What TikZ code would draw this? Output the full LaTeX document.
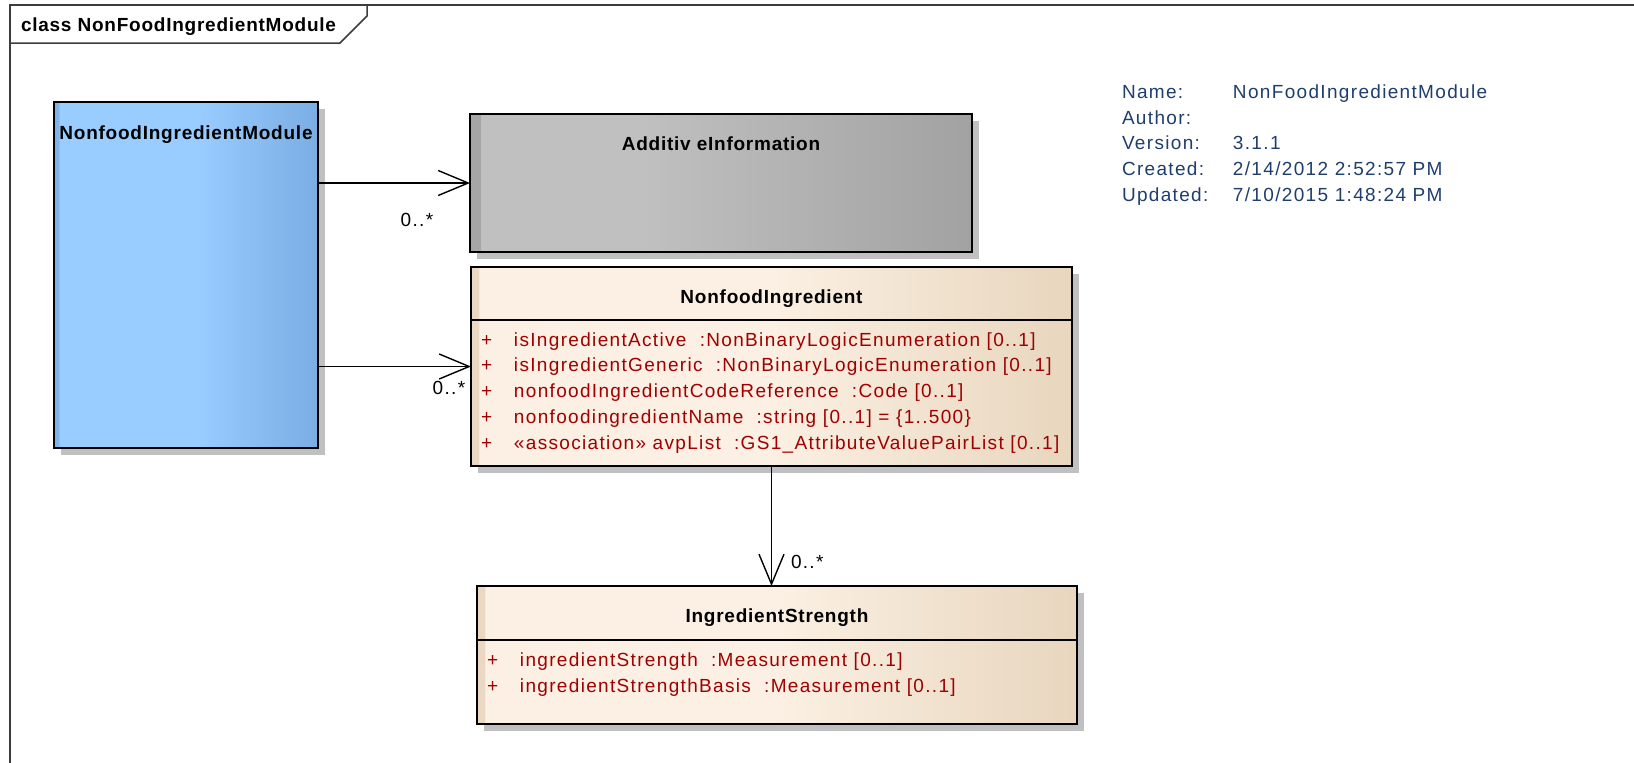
\documentclass[tikz,border=0pt]{standalone}
\usepackage{fontspec}
\setmainfont{Liberation Sans}[LetterSpace=7,BoldFeatures={LetterSpace=4}]
\usetikzlibrary{arrows.meta,shadows}
\definecolor{attrred}{RGB}{160,0,0}
\definecolor{infoblue}{RGB}{30,62,110}
\definecolor{framegray}{RGB}{60,60,60}
\definecolor{shadowgray}{RGB}{192,192,192}
\definecolor{bluelt}{RGB}{153,204,255}
\definecolor{bluedk}{RGB}{122,174,228}
\definecolor{bluestrip}{RGB}{127,180,232}
\definecolor{graylt}{RGB}{192,192,192}
\definecolor{graydk}{RGB}{162,162,162}
\definecolor{graystrip}{RGB}{166,166,166}
\definecolor{beigelt}{RGB}{251,240,227}
\definecolor{beigedk}{RGB}{232,214,190}
\definecolor{beigestrip}{RGB}{234,216,194}
\pgfdeclarehorizontalshading{moduleshade}{100bp}{color(0bp)=(bluestrip); color(25.9bp)=(bluestrip); color(26bp)=(bluelt); color(52bp)=(bluelt); color(75bp)=(bluedk); color(100bp)=(bluedk)}
\pgfdeclarehorizontalshading{additiveshade}{100bp}{color(0bp)=(graystrip); color(26bp)=(graystrip); color(26.1bp)=(graylt); color(42bp)=(graylt); color(75bp)=(graydk); color(100bp)=(graydk)}
\pgfdeclarehorizontalshading{classshade}{100bp}{color(0bp)=(beigestrip); color(25.6bp)=(beigestrip); color(25.7bp)=(beigelt); color(50bp)=(beigelt); color(75bp)=(beigedk); color(100bp)=(beigedk)}
\newcommand{\attrplus}{\makebox[33pt][l]{+}}
\begin{document}
\begin{tikzpicture}[x=1pt, y=-1pt,
  every node/.style={font=\fontsize{19}{25.7}\selectfont, inner sep=0pt, outer sep=0pt},
  classbox/.style={draw, line width=2pt, anchor=north west, general shadow={fill=shadowgray, shadow xshift=7pt, shadow yshift=-7pt}},
  classtitle/.style={font=\fontsize{19}{25.7}\selectfont\bfseries, anchor=base},
  attrtext/.style={text=attrred, anchor=base west},
  multlabel/.style={anchor=base west},
  compline/.style={line width=2pt},
  diagframe/.style={draw=framegray, line width=1.5pt},
  arr/.style={-{Straight Barb[length=30pt, width=25pt]}, line width=1.4pt}
]
\useasboundingbox (0,0) rectangle (1634,763);
\draw[diagframe] (10,763) -- (10,5) -- (1634,5);
\draw[diagframe] (10,43) -- (340,43) -- (367,16) -- (367,5);
\node[font=\fontsize{19}{25.7}\selectfont\bfseries, anchor=base west] (frametitle) at (21,31.7) {class NonFoodIngredientModule};

\node[classbox, shading=moduleshade, minimum width=264pt, minimum height=346pt] (mod) at (54,102) {};
\node[classtitle] (modtitle) at (mod.north |- 0,139) {NonfoodIngredientModule};

\node[classbox, shading=additiveshade, minimum width=502pt, minimum height=138pt] (addinfo) at (470,114) {};
\node[classtitle] (addtitle) at (addinfo.north |- 0,150.5) {Additiv eInformation};

\node[classbox, shading=classshade, minimum width=601pt, minimum height=199pt] (nfi) at (471,267) {};
\node[classtitle] (nfititle) at (nfi.north |- 0,303) {NonfoodIngredient};
\draw[compline] (nfi.west |- 0,320) -- (nfi.east |- 0,320);
\node[attrtext] (nfi1) at (481,346) {\attrplus isIngredientActive\ \ :NonBinaryLogicEnumeration [0..1]};
\node[attrtext] (nfi2) at (481,371.8) {\attrplus isIngredientGeneric\ \ :NonBinaryLogicEnumeration [0..1]};
\node[attrtext] (nfi3) at (481,397.6) {\attrplus nonfoodIngredientCodeReference\ \ :Code [0..1]};
\node[attrtext] (nfi4) at (481,423.4) {\attrplus nonfoodingredientName\ \ :string [0..1] = \{1..500\}};
\node[attrtext] (nfi5) at (481,449.2) {\attrplus «association» avpList\ \ :GS1\_AttributeValuePairList [0..1]};

\node[classbox, shading=classshade, minimum width=600pt, minimum height=137.5pt] (strength) at (477,586) {};
\node[classtitle] (strengthtitle) at (strength.north |- 0,622) {IngredientStrength};
\draw[compline] (strength.west |- 0,640) -- (strength.east |- 0,640);
\node[attrtext] (strength1) at (487,666.7) {\attrplus ingredientStrength\ \ :Measurement [0..1]};
\node[attrtext] (strength2) at (487,692.7) {\attrplus ingredientStrengthBasis\ \ :Measurement [0..1]};

\draw[arr] (mod.east |- addinfo.west) -- (addinfo.west);
\draw[arr] (mod.east |- nfi.west) -- (nfi.west);
\draw[arr] (nfi.south) -- (nfi.south |- strength.north);
\node[multlabel] (mult1) at (400.7,226) {0..*};
\node[multlabel] (mult2) at (432.7,394) {0..*};
\node[multlabel] (mult3) at (791,568) {0..*};

\node[anchor=base west, text=infoblue] (info) at (1122,98.3) {\begin{tabular}[t]{@{}p{111pt}@{}l@{}}Name: & NonFoodIngredientModule\\ Author: & \\ Version: & 3.1.1\\ Created: & 2/14/2012 2:52:57 PM\\ Updated: & 7/10/2015 1:48:24 PM\end{tabular}};
\end{tikzpicture}
\end{document}
